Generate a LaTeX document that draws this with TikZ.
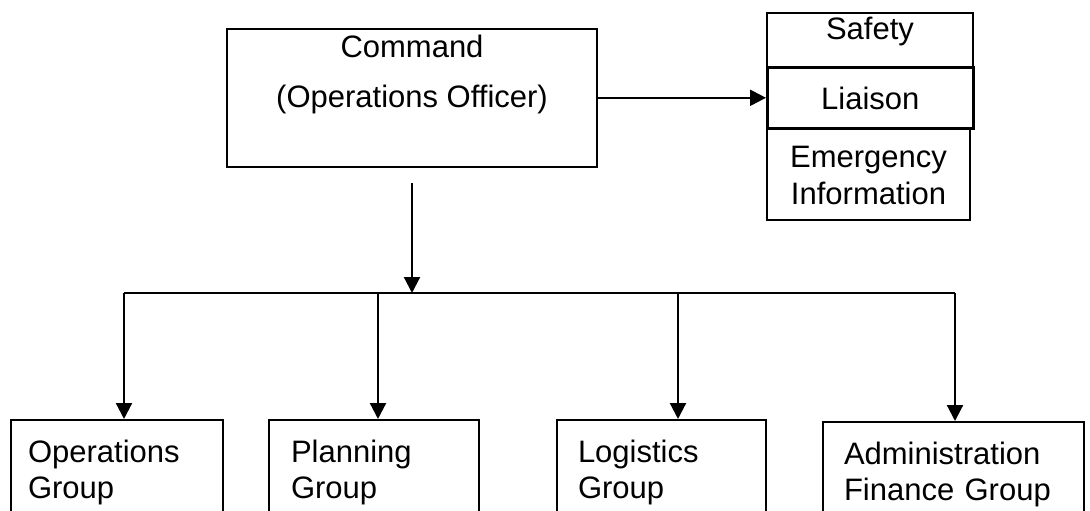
\documentclass[tikz,border=0pt]{standalone}
\usepackage{fontspec}
\setmainfont{Liberation Sans}
\usetikzlibrary{arrows.meta}

\tikzset{
  chartbox/.style={draw, line width=2pt, inner ysep=0pt, font=\fontsize{31}{36}\selectfont},
  grpbox/.style={chartbox, anchor=north west, align=left, inner xsep=20pt, text height=42pt, text depth=120pt},
  stackbox/.style={chartbox, anchor=north west, align=center, minimum width=206pt},
  arr/.style={line width=2.2pt, -{Triangle[length=16pt,width=16pt]}}
}

\begin{document}
\begin{tikzpicture}[x=1pt,y=-1pt]
\useasboundingbox (0,0) rectangle (1090,511);

% command
\node[chartbox, anchor=north, align=center, minimum width=370pt, text height=78pt, text depth=60pt,
  font=\fontsize{31}{50}\selectfont] (cmd) at (412,28) {Command\\(Operations Officer)};

% staff stack
\node[stackbox, text height=27pt, text depth=27pt] (safety) at (766,12) {Safety};
\node[stackbox, line width=2.6pt, text height=42pt, text depth=19pt] (liaison) at (766,66) {Liaison};
\node[stackbox, minimum width=203pt, text height=76pt, text depth=16pt,
  font=\fontsize{31}{37}\selectfont] (einfo) at (766,127) {Emergency\\Information};

\draw[arr] (cmd.east |- liaison.west) -- (liaison.west);

% groups
\node[grpbox, text width=178pt, inner xsep=17pt] (ops) at (10,419) {Operations\\Group};
\node[grpbox, text width=166pt, inner xsep=22pt] (plan) at (268,419) {Planning\\Group};
\node[grpbox, text width=167pt, inner xsep=21pt] (logi) at (556,419) {Logistics\\Group};
\node[grpbox, text width=219pt, inner xsep=21pt] (admin) at (822,421) {Administration\\Finance Group};

% bus
\coordinate (cmdout) at (412,183);
\coordinate (bus) at (412,293);
\coordinate (b1) at (124,293);
\coordinate (b2) at (378,293);
\coordinate (b3) at (678,293);
\coordinate (b4) at (955,293);

\draw[arr] (cmdout) -- (bus);
\draw[line width=2.2pt] (b1) -- (b4);
\draw[arr] (b1) -- (b1 |- ops.north);
\draw[arr] (b2) -- (b2 |- plan.north);
\draw[arr] (b3) -- (b3 |- logi.north);
\draw[arr] (b4) -- (b4 |- admin.north);
\end{tikzpicture}
\end{document}
